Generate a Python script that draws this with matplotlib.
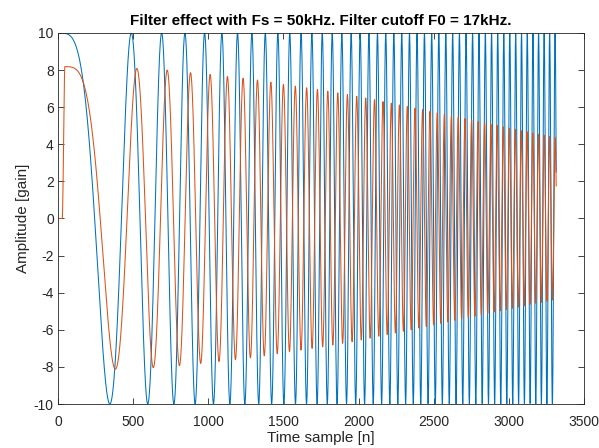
import matplotlib
matplotlib.use("Agg")
import matplotlib.pyplot as plt
import numpy as np

plt.rcParams['font.family'] = ['Liberation Sans', 'DejaVu Sans']
plt.rcParams['axes.unicode_minus'] = False

# values
n_last = 3315            # last time sample
in_amp = 10.0            # input chirp amplitude
chirp_rate = 8.41e-6     # cycles/sample^2 (peaks at 0, 488, 690, ...)
delay = 37               # filter delay in samples
ramp_start, ramp_end = 28, 46   # filter start-up edge

# output envelope (peak amplitude) read at sample positions
env_n = [0, 400, 550, 730, 885, 1010, 1130, 1235, 1325, 1500, 1730,
         2000, 2250, 2500, 2750, 3000, 3310]
env_v = [8.2, 8.12, 8.08, 8.0, 7.86, 7.77, 7.65, 7.56, 7.47, 7.23, 6.96,
         6.58, 6.16, 5.74, 5.31, 4.88, 4.36]

n = np.arange(n_last + 1)
x_in = in_amp * np.cos(np.pi * chirp_rate * n ** 2)

nd = np.clip(n - delay, 0, None)
ramp = np.clip((n - ramp_start) / (ramp_end - ramp_start), 0, 1)
ramp = 0.5 - 0.5 * np.cos(np.pi * ramp)
y_out = ramp * np.interp(n, env_n, env_v) * np.cos(np.pi * chirp_rate * nd ** 2)

fig = plt.figure(figsize=(5.99, 4.48), dpi=100)
ax = fig.add_axes([58 / 599, 1 - 404 / 448, (584 - 58) / 599, (404 - 33) / 448])
ax.plot(n, x_in, color='#0072BD', linewidth=0.75)
ax.plot(n, y_out, color='#D95319', linewidth=0.75)

ax.set_xlim(0, 3500)
ax.set_ylim(-10, 10)
ax.set_xticks(np.arange(0, 3501, 500))
ax.set_yticks(np.arange(-10, 11, 2))
ax.tick_params(direction='in', top=True, right=True, length=4, width=0.6,
               labelsize=10, colors='#262626')
ax.tick_params(axis='x', pad=8)
ax.tick_params(axis='y', pad=3)
for s in ax.spines.values():
    s.set_color('#262626')
    s.set_linewidth(0.6)

ax.set_xlabel('Time sample [n]', fontsize=11, color='#262626', labelpad=1)
ax.set_ylabel('Amplitude [gain]', fontsize=11, color='#262626', labelpad=3)
ax.set_title('Filter effect with Fs = 50kHz. Filter cutoff F0 = 17kHz.',
             fontsize=11, fontweight='bold', pad=6)

fig.savefig('out.png', dpi=100)
